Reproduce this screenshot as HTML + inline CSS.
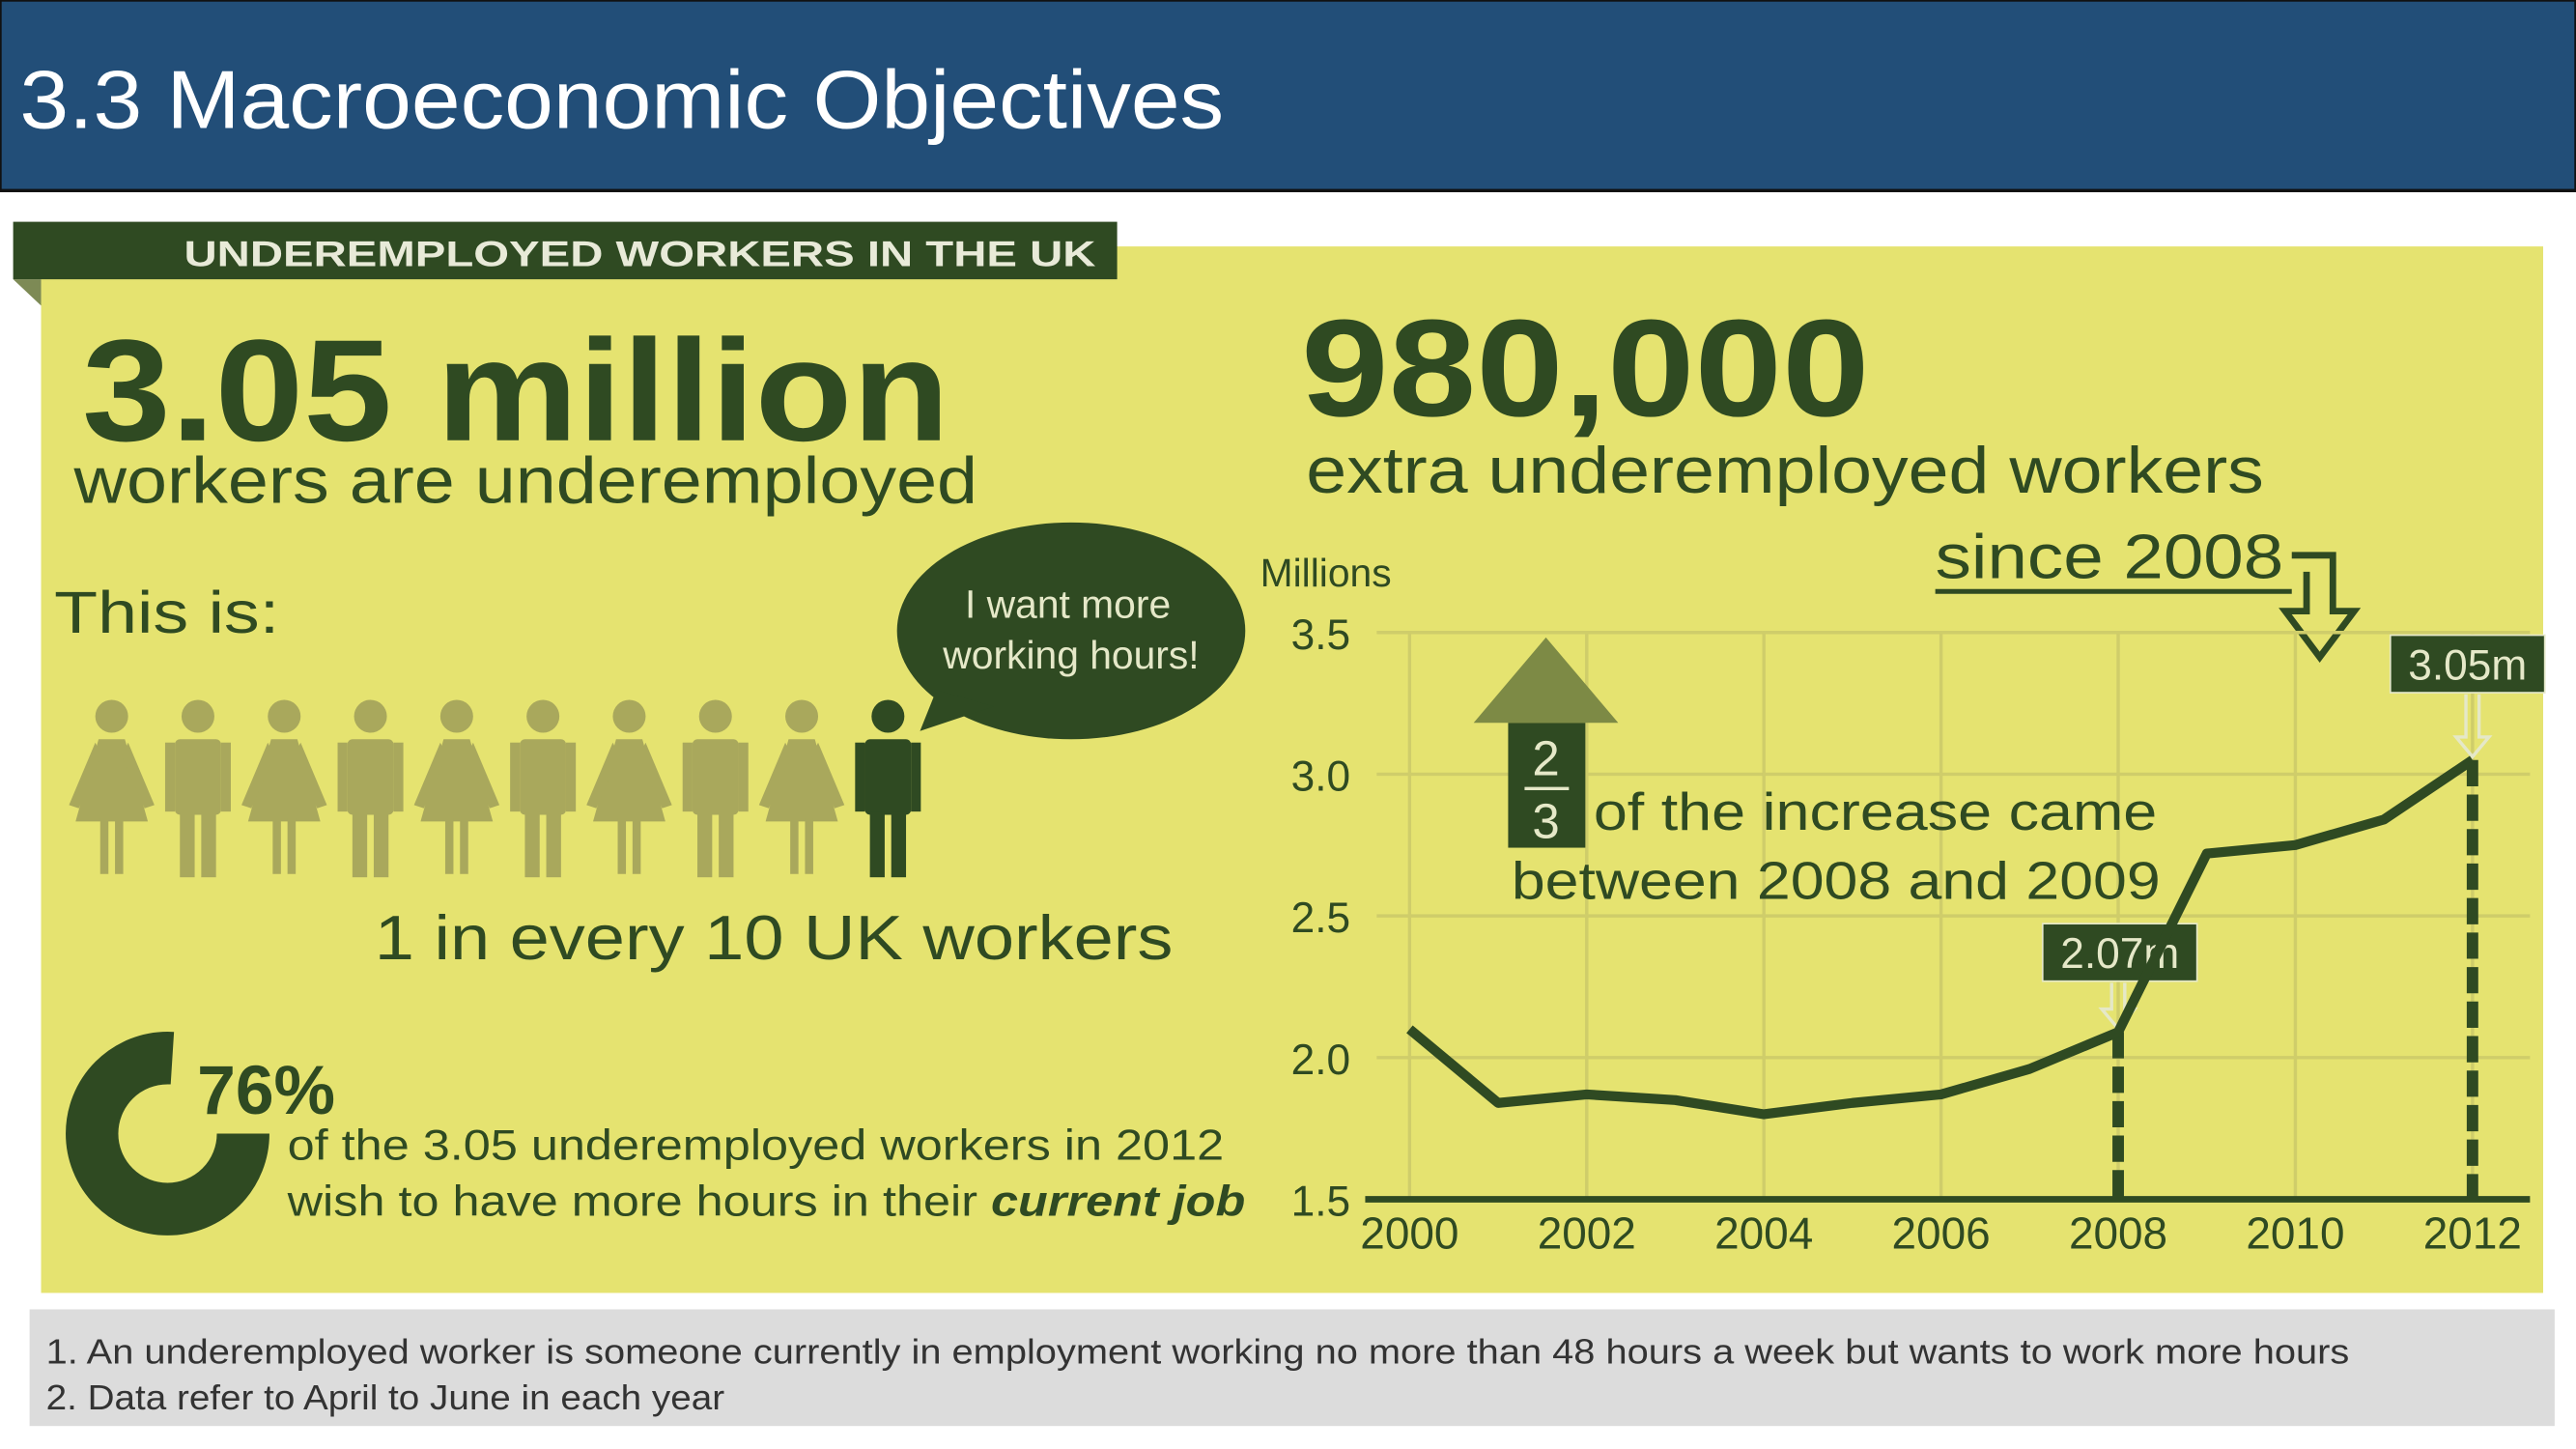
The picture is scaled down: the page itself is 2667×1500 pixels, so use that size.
<!DOCTYPE html>
<html><head><meta charset="utf-8"><style>
html,body{margin:0;padding:0;background:#fff;}
svg{display:block;}
text{font-family:"Liberation Sans",sans-serif;}
</style></head><body>
<svg width="2667" height="1500" viewBox="0 0 1568 882" preserveAspectRatio="none">
<rect x="0" y="0" width="1568" height="882" fill="#ffffff"/>
<rect x="0" y="0" width="1568" height="116" fill="#224e78" stroke="#111" stroke-width="2"/>
<text x="12" y="78" font-size="50" fill="#fff" textLength="733" lengthAdjust="spacingAndGlyphs">3.3 Macroeconomic Objectives</text>

<rect x="25" y="150" width="1523" height="637" fill="#e5e370"/>
<polygon points="8,170 25,170 25,186" fill="#7d8a55"/>
<rect x="8" y="135" width="672" height="35" fill="#2f4a22"/>
<text x="112" y="162" font-size="22" font-weight="bold" fill="#e8ead8" font-family="Liberation Serif, serif" textLength="555" lengthAdjust="spacingAndGlyphs">UNDEREMPLOYED WORKERS IN THE UK</text>

<g fill="#2f4a22">
<text x="50" y="268" font-size="88" font-family="Liberation Serif, serif" font-weight="bold" textLength="528" lengthAdjust="spacingAndGlyphs">3.05 million</text>
<text x="45" y="306" font-size="40" textLength="550" lengthAdjust="spacingAndGlyphs">workers are underemployed</text>
<text x="792" y="253" font-size="84" font-weight="bold" textLength="346" lengthAdjust="spacingAndGlyphs">980,000</text>
<text x="795" y="300" font-size="40" textLength="583" lengthAdjust="spacingAndGlyphs">extra underemployed workers</text>
<text x="1178" y="352" font-size="38" textLength="212" lengthAdjust="spacingAndGlyphs">since 2008</text>
<text x="33" y="385" font-size="36" textLength="137" lengthAdjust="spacingAndGlyphs">This is:</text>
<text x="228" y="584" font-size="38" textLength="486" lengthAdjust="spacingAndGlyphs">1 in every 10 UK workers</text>
</g>
<line x1="1178" y1="360" x2="1395" y2="360" stroke="#2f4a22" stroke-width="3"/>
<polyline points="1395,338 1420,338 1420,372 1433,372 1412,400 1391,372 1404,372 1404,348" fill="none" stroke="#2f4a22" stroke-width="4"/>

<g id="people"></g>

<g>
<ellipse cx="652" cy="384" rx="106" ry="66" fill="#2f4a22"/>
<polygon points="570,420 560,445 605,430" fill="#2f4a22"/>
<text x="650" y="376" font-size="24" fill="#e5e8c8" text-anchor="middle">I want more</text>
<text x="652" y="407" font-size="24" fill="#e5e8c8" text-anchor="middle">working hours!</text>
</g>

<circle cx="102" cy="690" r="46" fill="none" stroke="#2f4a22" stroke-width="32" stroke-dasharray="219.6 69.4"/>
<text x="120" y="678" font-size="42" font-weight="bold" font-family="Liberation Serif, serif" fill="#2f4a22">76%</text>
<text x="175" y="706" font-size="26" fill="#2f4a22" textLength="570" lengthAdjust="spacingAndGlyphs">of the 3.05 underemployed workers in 2012</text>
<text x="175" y="740" font-size="26" fill="#2f4a22" textLength="583" lengthAdjust="spacingAndGlyphs">wish to have more hours in their <tspan font-weight="bold" font-style="italic">current job</tspan></text>

<g id="chart"></g>

<rect x="18" y="797" width="1537" height="71" fill="#dcdcdc"/>
<text x="28" y="830" font-size="21" fill="#333" textLength="1402" lengthAdjust="spacingAndGlyphs">1. An underemployed worker is someone currently in employment working no more than 48 hours a week but wants to work more hours</text>
<text x="28" y="858" font-size="21" fill="#333" textLength="413" lengthAdjust="spacingAndGlyphs">2. Data refer to April to June in each year</text>
</svg>
<script>
const years=[2000,2001,2002,2003,2004,2005,2006,2007,2008,2009,2010,2011,2012];
const workers=[2.1,1.84,1.87,1.85,1.8,1.84,1.87,1.96,2.09,2.72,2.75,2.84,3.05];
const yTicks=[1.5,2.0,2.5,3.0,3.5];
const xTickYears=[2000,2002,2004,2006,2008,2010,2012];
const NS="http://www.w3.org/2000/svg";
const X0=858,X1=1505,Y0=730,Y1=385;
function sx(y){return X0+(y-2000)/(2012-2000)*(X1-X0);}
function sy(v){return Y0-(v-1.5)/(3.5-1.5)*(Y0-Y1);}
function mk(tag,attrs,parent){const e=document.createElementNS(NS,tag);for(const k in attrs)e.setAttribute(k,attrs[k]);parent.appendChild(e);return e;}
const chart=document.getElementById('chart');
let t=mk('text',{x:767,y:357,'font-size':24,fill:'#2f4a22'},chart);t.textContent='Millions';


yTicks.forEach(v=>{
  if(v>1.5){const l=mk('line',{x1:X0-20,x2:1540,y1:sy(v),y2:sy(v),stroke:'#cfcd6a','stroke-width':2},chart);
  
  }
  const tx=mk('text',{x:822,y:sy(v)+10,'font-size':26,fill:'#2f4a22','text-anchor':'end'},chart);tx.textContent=v.toFixed(1);
  
  
});
xTickYears.forEach(yr=>{
  const l=mk('line',{x1:sx(yr),x2:sx(yr),y1:Y1,y2:Y0,stroke:'#cfcd6a','stroke-width':2},chart);
  
  
  const tx=mk('text',{x:sx(yr),y:Y0+30,'font-size':27,fill:'#2f4a22','text-anchor':'middle'},chart);tx.textContent=yr;
  
  
});
const ax=mk('line',{x1:X0-27,x2:1540,y1:Y0,y2:Y0,stroke:'#2f4a22','stroke-width':4},chart);


[[2008,'2.07m'],[2012,'3.05m']].forEach(([yr,lab])=>{
  const v=workers[years.indexOf(yr)];
  const d=mk('line',{x1:sx(yr),x2:sx(yr),y1:sy(v),y2:Y0,stroke:'#2f4a22','stroke-width':7,'stroke-dasharray':'16 5'},chart);
  
  
  const bx=sx(yr)-(yr===2012?50:46), by=sy(v)-(yr===2012?76:66);
  const r=mk('rect',{x:bx,y:by,width:94,height:35,fill:'#2f4a22',stroke:'#e5e8c8','stroke-width':1},chart);
  
  
  const tx=mk('text',{x:bx+47,y:by+27,'font-size':26,fill:'#e5e8c8','text-anchor':'middle'},chart);tx.textContent=lab;
  
  
  const ar=mk('path',{d:`M${sx(yr)-4},${by+36} V${sy(v)-14} H${sx(yr)-10} L${sx(yr)},${sy(v)-2} L${sx(yr)+10},${sy(v)-14} H${sx(yr)+4} V${by+36}`,fill:'none',stroke:'#e5e8c8','stroke-width':2},chart);
  
  
});
const line=mk('polyline',{points:years.map((y,i)=>sx(y)+','+sy(workers[i])).join(' '),fill:'none',stroke:'#2f4a22','stroke-width':6,'stroke-linejoin':'round'},chart);


const tri=mk('polygon',{points:'897,440 941,388 985,440',fill:'#7d8a45'},chart);


const rb=mk('rect',{x:918,y:440,width:47,height:76,fill:'#2f4a22'},chart);


let f=mk('text',{x:941,y:472,'font-size':30,fill:'#e5e8c8','text-anchor':'middle'},chart);f.textContent='2';


mk('line',{x1:928,x2:955,y1:480,y2:480,stroke:'#e5e8c8','stroke-width':2},chart);
f=mk('text',{x:941,y:510,'font-size':30,fill:'#e5e8c8','text-anchor':'middle'},chart);f.textContent='3';


f=mk('text',{x:970,y:505,'font-size':32,fill:'#2f4a22',textLength:343,lengthAdjust:'spacingAndGlyphs'},chart);f.textContent='of the increase came';


f=mk('text',{x:920,y:547,'font-size':32,fill:'#2f4a22',textLength:395,lengthAdjust:'spacingAndGlyphs'},chart);f.textContent='between 2008 and 2009';



const ppl=document.getElementById('people');
for(let i=0;i<10;i++){
  const cx=68+i*52.5, col=i===9?'#2f4a22':'#a9a85c';
  const g=mk('g',{fill:col},ppl);
  
  
  mk('circle',{cx:cx,cy:436,r:10},g);
  if(i%2===0&&i!==9){
    mk('polygon',{points:`${cx-8},450 ${cx+8},450 ${cx+22},500 ${cx-22},500`},g);
    mk('rect',{x:cx-7,y:498,width:5,height:34},g);mk('rect',{x:cx+2,y:498,width:5,height:34},g);
    mk('polygon',{points:`${cx-10},452 ${cx-26},490 ${cx-20},492 ${cx-6},460`},g);
    mk('polygon',{points:`${cx+10},452 ${cx+26},490 ${cx+20},492 ${cx+6},460`},g);
  } else {
    mk('rect',{x:cx-14,y:450,width:28,height:46,rx:3},g);
    mk('rect',{x:cx-20,y:452,width:6,height:42},g);mk('rect',{x:cx+14,y:452,width:6,height:42},g);
    mk('rect',{x:cx-11,y:494,width:9,height:40},g);mk('rect',{x:cx+2,y:494,width:9,height:40},g);
  }
}
</script>
</body></html>
